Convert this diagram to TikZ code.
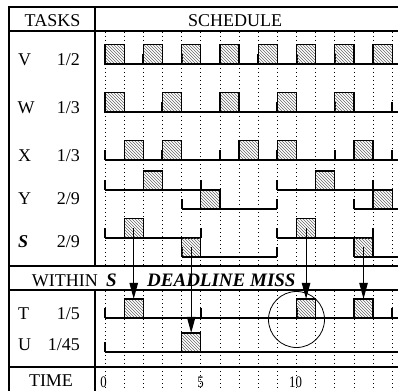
\documentclass[tikz,border=0pt]{standalone}
\usepackage{fontspec}
\setmainfont{Liberation Serif}
\usetikzlibrary{patterns,arrows.meta}
\begin{document}
\begin{tikzpicture}[x=1pt,y=-1pt,
  frameline/.style={line width=1.8pt},
  gridline/.style={line width=0.8pt, dash pattern=on 1pt off 3pt, black},
  baseln/.style={line width=1.8pt},
  reltick/.style={line width=2pt},
  job/.style={draw, line width=1.3pt, pattern=north west lines, pattern color=black!60, minimum width=19.15pt, minimum height=19.15pt, inner sep=0pt, outer sep=0pt, anchor=south west},
  lbl/.style={font=\fontsize{18}{20}\selectfont, inner sep=0pt},
  bilbl/.style={font=\fontsize{19}{21}\selectfont\bfseries\itshape, inner sep=0pt},
  num/.style={font=\fontsize{16}{18}\selectfont, inner sep=0pt, xscale=0.8},
  msg/.style={-{Triangle[length=16pt 0 0,width=8.5pt 0 0]}, line width=1pt}
]
\useasboundingbox (0,0) rectangle (398,390);
\clip (0,0) rectangle (398,390);

% time grid and schedule
\begin{scope}[shift={(105,0)}, x=19.15pt]
  \foreach \t in {0,...,15} {
    \draw[gridline] (\t,32) -- (\t,265);
    \draw[gridline] (\t,291) -- (\t,392);
  }
  % baselines
  \foreach \y in {64,112,160,318,352}
    \draw[baseln] (0,\y) -- (15.6,\y);
  \foreach \y/\z in {190/209, 237.7/256.7} {
    \draw[baseln] (0,\y) -- (5,\y);
    \draw[baseln] (9,\y) -- (14,\y);
    \draw[baseln] (4,\z) -- (9,\z);
    \draw[baseln] (13,\z) -- (15.6,\z);
  }
  % release / deadline ticks
  \foreach \t in {0,2,...,14} \draw[reltick] (\t,64) -- ++(0,-10);
  \foreach \t in {0,3,...,15} {
    \draw[reltick] (\t,112) -- ++(0,-10);
    \draw[reltick] (\t,160) -- ++(0,-10);
  }
  \foreach \y/\z in {190/209, 237.7/256.7} {
    \foreach \t in {0,5,9,14} \draw[reltick] (\t,\y) -- ++(0,-10);
    \foreach \t in {4,9,13} \draw[reltick] (\t,\z) -- ++(0,-10);
  }
  \foreach \t in {0,5,10,15} \draw[reltick] (\t,318) -- ++(0,-10);
  \draw[reltick] (0,352) -- ++(0,-10);

  % jobs
  \foreach \t in {0,2,...,14} \node[job] (v\t) at (\t,64) {};
  \foreach \t in {0,3,...,12} \node[job] (w\t) at (\t,112) {};
  \foreach \t in {1,3,7,9,13} \node[job] (x\t) at (\t,160) {};
  \node[job] (y1) at (2,190) {};
  \node[job] (y2) at (5,209) {};
  \node[job] (y3) at (11,190) {};
  \node[job] (y4) at (14,209) {};
  \node[job] (s1) at (1,237.7) {};
  \node[job] (s2) at (4,256.7) {};
  \node[job] (s3) at (10,237.7) {};
  \node[job] (s4) at (13,256.7) {};
  \node[job] (t1) at (1,318) {};
  \node[job] (t2) at (10,318) {};
  \node[job] (t3) at (13,318) {};
  \node[job] (u1) at (4,352) {};
\end{scope}

% table frame
\draw[frameline] (8,7) -- (400,7);
\draw[frameline] (8,31) -- (400,31);
\draw[frameline] (8,266) -- (400,266);
\draw[frameline] (8,290) -- (400,290);
\draw[frameline] (8,367) -- (400,367);
\draw[frameline] (9,6.1) -- (9,392);
\draw[frameline] (95,7) -- (95,266);
\draw[frameline] (95,290) -- (95,392);

% header
\node[lbl, anchor=base] (hTasks) at (52.5,26.7) {TASKS};
\node[lbl, anchor=base] (hSched) at (235,26.7) {SCHEDULE};

% task labels
\node[lbl, anchor=base west] (lV) at (18,65.7) {V};
\node[lbl, anchor=base east] (rV) at (80,65.7) {1/2};
\node[lbl, anchor=base west] (lW) at (17.5,113.3) {W};
\node[lbl, anchor=base east] (rW) at (80,113.3) {1/3};
\node[lbl, anchor=base west] (lX) at (18,161) {X};
\node[lbl, anchor=base east] (rX) at (80,161) {1/3};
\node[lbl, anchor=base west] (lY) at (18,204) {Y};
\node[lbl, anchor=base east] (rY) at (80,204) {2/9};
\node[lbl, anchor=base west] (lS) at (18,247) {\bfseries\itshape S};
\node[lbl, anchor=base east] (rS) at (80,247) {2/9};
\node[lbl, anchor=base west] (lT) at (18,319.3) {T};
\node[lbl, anchor=base east] (rT) at (80,319.3) {1/5};
\node[lbl, anchor=base west] (lU) at (18,350.7) {U};
\node[lbl, anchor=base east] (rU) at (80,350.7) {1/45};

% band
\node[lbl, anchor=base west] (within) at (31.7,286) {WITHIN};
\node[bilbl, anchor=base west] (withinS) at (106,286) {S};
\node[bilbl, anchor=base west] (dmiss) at (147,286) {DEADLINE MISS};

% time row
\node[lbl, anchor=base] (time) at (51,386.7) {TIME};
\node[num, anchor=base] (n0) at (103.5,387.3) {0};
\node[num, anchor=base] (n5) at (200.5,387.3) {5};
\node[num, anchor=base] (n10) at (295.5,387.3) {10};

% arrows from S jobs
\draw[msg] (s1.center) -- (t1.north);
\draw[msg] (s2.center) -- (u1.north);
\draw[msg] (s3.center) -- (t2.north);
\draw[msg] (s4.center) -- (t3.north);

% deadline miss circle
\node[draw, circle, line width=0.8pt, minimum size=56pt, inner sep=0pt] (miss) at (296.5,319.5) {};
\end{tikzpicture}
\end{document}
